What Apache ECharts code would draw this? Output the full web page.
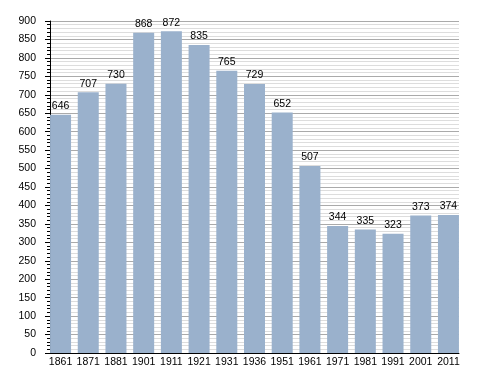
<!DOCTYPE html>
<html><head><meta charset="utf-8">
<script src="https://cdn.jsdelivr.net/npm/echarts@6/dist/echarts.min.js"></script>
<style>html,body{margin:0;padding:0;background:#fff}#c{width:488px;height:373px}</style>
</head><body><div id="c"></div>
<script>
const years = ['1861','1871','1881','1901','1911','1921','1931','1936','1951','1961','1971','1981','1991','2001','2011'];
const population = [646,707,730,868,872,835,765,729,652,507,344,335,323,373,374];
const yMin = 0, yMax = 900, yStep = 50;

const font = 'Liberation Sans, Arial, sans-serif';
const chart = echarts.init(document.getElementById('c'), null, {renderer:'canvas'});
chart.setOption({
  animation:false,
  backgroundColor:'#ffffff',
  grid:[
    {left:50, right:29, top:21, bottom:20},
    {left:46.7, right:25.7, top:21, bottom:20}
  ],
  xAxis:[
    {gridIndex:0, type:'category', data:years, axisLine:{show:true, lineStyle:{color:'#000', width:1}},
     axisTick:{show:false}, axisLabel:{show:false}, splitLine:{show:false}},
    {gridIndex:1, type:'category', data:years, axisLine:{show:false}, axisTick:{show:false},
     axisLabel:{show:true, color:'#000', fontFamily:font, fontSize:10.5, margin:4, interval:0}}
  ],
  yAxis:[
    {gridIndex:0, type:'value', min:yMin, max:yMax, interval:yStep,
     axisLine:{show:true, lineStyle:{color:'#000', width:1}},
     axisTick:{show:true, inside:false, length:5, lineStyle:{color:'#000'}},
     minorTick:{show:true, splitNumber:5, length:3, lineStyle:{color:'#000'}},
     axisLabel:{color:'#000', fontFamily:font, fontSize:10.5, margin:14},
     splitLine:{show:true, lineStyle:{color:'#aaaaaa', width:1}},
     minorSplitLine:{show:true, lineStyle:{color:'#dddddd', width:1}}},
    {gridIndex:1, type:'value', min:yMin, max:yMax, interval:yStep, show:false, splitLine:{show:false}}
  ],
  series:[{
    type:'bar', xAxisIndex:1, yAxisIndex:1, data:population, barWidth:21,
    itemStyle:{color:'#9ab1cc'},
    label:{show:true, position:'top', distance:3, color:'#000', fontFamily:font, fontSize:10.5}
  }]
});
</script></body></html>
